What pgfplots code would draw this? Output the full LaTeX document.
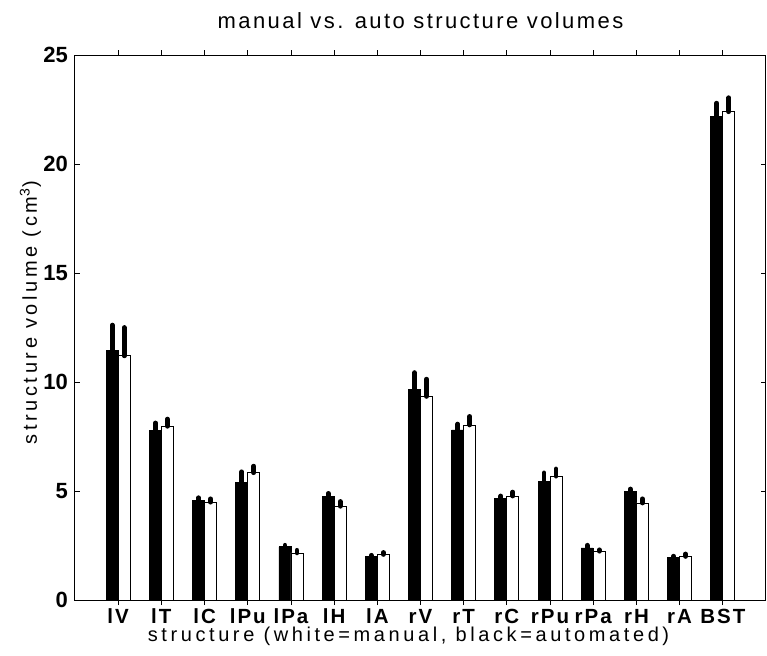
\documentclass[border=0pt]{standalone}
\usepackage{pgfplots}
\pgfplotsset{compat=1.18}
\usepackage{pgfplotstable}
\usepackage{fontspec}
\setmainfont{Liberation Sans}

\pgfplotstableread{
x auto autoerr manual manerr
1  11.43 1.18 11.20 1.30
2  7.77  0.35 7.97  0.33
3  4.57  0.12 4.49  0.15
4  5.41  0.47 5.84  0.30
5  2.44  0.07 2.16  0.12
6  4.75  0.14 4.30  0.22
7  2.01  0.04 2.09  0.09
8  9.67  0.76 9.34  0.79
9  7.80  0.27 8.03  0.39
10 4.65  0.12 4.77  0.18
11 5.45  0.38 5.68  0.33
12 2.39  0.12 2.24  0.06
13 4.96  0.13 4.45  0.19
14 1.95  0.06 2.00  0.11
15 22.20 0.59 22.40 0.64
}\datatable

\begin{document}
\begin{tikzpicture}
\useasboundingbox (0,0) rectangle (383.5pt,327.5pt);
\begin{axis}[
  at={(37.5pt,27.5pt)}, anchor=south west,
  scale only axis, width=345.5pt, height=272.5pt,
  xmin=0, xmax=16, ymin=0, ymax=25,
  xtick={1,...,15},
  xticklabels={lV,lT,lC,lPu,lPa,lH,lA,rV,rT,rC,rPu,rPa,rH,rA,BST},
  ytick={0,5,...,25},
  tick align=inside, major tick length=2.5pt,
  tick style={black, line width=0.4pt},
  axis line style={line width=0.5pt},
  /pgf/number format/assume math mode=true,
  yticklabel style={font=\fontsize{11}{13}\selectfont\bfseries},
  xticklabel style={font=\fontsize{10.25}{12}\selectfont\bfseries\addfontfeature{LetterSpace=10}, anchor=base, yshift=-9pt},
  title={manual vs. auto structure volumes},
  every axis title/.style={at={(axis description cs:0.5,1)}, anchor=base, yshift=13.5pt, font=\fontsize{11}{13}\selectfont\addfontfeature{LetterSpace=11}},
  xlabel={structure (white=manual, black=automated)},
  every axis x label/.style={at={(axis description cs:0.5,0)}, anchor=base, yshift=-20.5pt, xshift=-6pt, font=\fontsize{10}{12}\selectfont\addfontfeature{LetterSpace=18}},
  ylabel={structure volume (cm\textsuperscript{3})},
  every axis y label/.style={at={(axis description cs:-0.055,0.527)}, rotate=90, anchor=base, font=\fontsize{10}{12}\selectfont\addfontfeature{LetterSpace=18}},
  ybar, bar width=6pt,
]
\addplot[fill=black, draw=black, line width=0.4pt, bar shift=-3pt,
  error bars/.cd, y dir=plus, y explicit, error mark=none,
  error bar style={line width=2.4pt, line cap=round, black}]
  table[x=x, y=auto, y error=autoerr] {\datatable};
\addplot[fill=white, draw=black, line width=0.4pt, bar shift=3pt,
  error bars/.cd, y dir=plus, y explicit, error mark=none,
  error bar style={line width=2.4pt, line cap=round, black}]
  table[x=x, y=manual, y error=manerr] {\datatable};
\end{axis}
\end{tikzpicture}
\end{document}
